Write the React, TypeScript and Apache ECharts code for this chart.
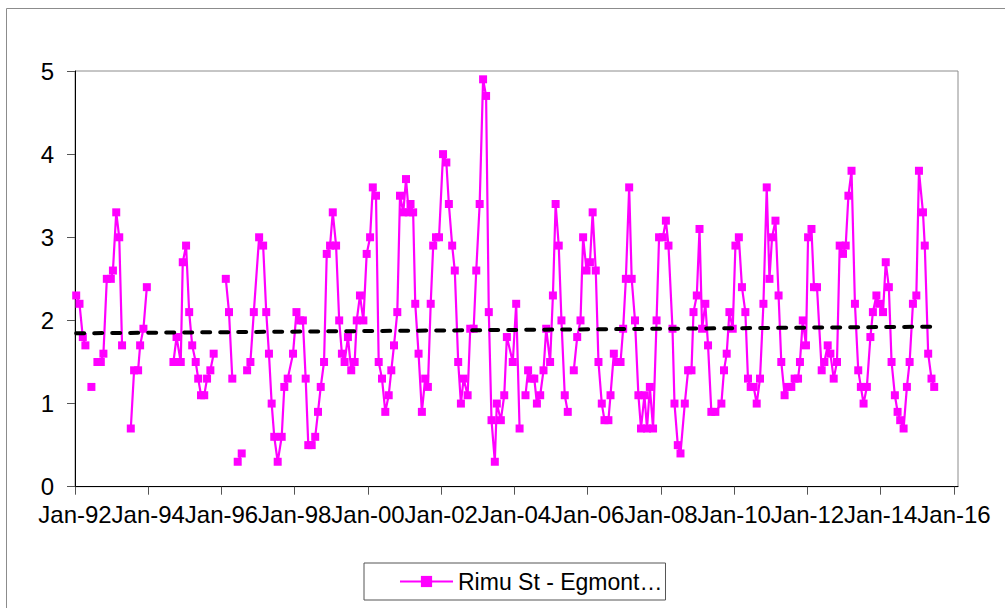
import React, { useEffect, useRef } from "react";
import * as echarts from "echarts";

const seriesName = "Rimu St - Egmont…";

// sample dates (one line per year); a null value marks a gap in the record
const sampleDates: string[] = [
  "1992-01-13", "1992-02-15", "1992-03-19", "1992-04-14", "1992-05-15", "1992-06-13", "1992-07-15", "1992-08-12", "1992-09-15", "1992-10-11", "1992-11-14", "1992-12-24",
  "1993-01-14", "1993-02-16", "1993-03-18", "1993-04-15", "1993-05-15", "1993-07-11", "1993-08-13", "1993-09-22", "1993-10-12", "1993-11-14", "1993-12-18",
  "1994-01-15", "1994-09-09", "1994-10-10", "1994-11-21", "1994-12-11",
  "1995-01-13", "1995-02-13", "1995-03-15", "1995-04-19", "1995-05-14", "1995-06-11", "1995-07-13", "1995-08-10", "1995-09-12", "1995-10-15", "1995-11-15",
  "1996-02-13", "1996-03-16", "1996-04-18", "1996-05-15", "1996-06-11", "1996-07-21", "1996-08-15", "1996-09-13", "1996-10-16", "1996-11-19",
  "1997-01-11", "1997-02-20", "1997-03-23", "1997-04-19", "1997-05-16", "1997-06-11", "1997-07-15", "1997-08-24", "1997-09-19", "1997-10-23", "1997-12-15",
  "1998-01-18", "1998-02-24", "1998-03-23", "1998-04-20", "1998-05-16", "1998-06-19", "1998-07-24", "1998-08-21", "1998-09-17", "1998-10-20", "1998-11-16", "1998-12-19",
  "1999-01-15", "1999-02-17", "1999-03-20", "1999-04-16", "1999-05-13", "1999-06-15", "1999-07-18", "1999-08-21", "1999-09-11", "1999-10-13", "1999-11-16", "1999-12-19",
  "2000-01-22", "2000-02-18", "2000-03-21", "2000-04-17", "2000-05-20", "2000-06-22", "2000-07-26", "2000-08-21", "2000-09-17", "2000-10-20", "2000-11-16", "2000-12-19",
  "2001-01-15", "2001-02-11", "2001-03-01", "2001-03-27", "2001-04-17", "2001-05-20", "2001-06-22", "2001-07-25", "2001-08-21", "2001-09-18", "2001-10-13", "2001-11-10", "2001-12-10",
  "2002-01-19", "2002-02-21", "2002-03-18", "2002-04-20", "2002-05-16", "2002-06-19", "2002-07-16", "2002-08-12", "2002-09-21", "2002-10-17", "2002-11-20", "2002-12-16",
  "2003-01-19", "2003-02-22", "2003-03-24", "2003-04-20", "2003-05-17", "2003-06-19", "2003-07-09", "2003-08-18", "2003-09-21", "2003-10-17", "2003-12-15",
  "2004-01-18", "2004-02-21", "2004-03-15", "2004-04-20", "2004-05-16", "2004-06-19", "2004-07-17", "2004-08-12", "2004-09-14", "2004-10-17", "2004-11-13", "2004-12-22",
  "2005-01-19", "2005-02-15", "2005-03-18", "2005-04-14", "2005-05-17", "2005-06-16", "2005-07-15", "2005-08-15", "2005-09-18", "2005-10-21", "2005-11-16", "2005-12-20",
  "2006-01-23", "2006-02-19", "2006-03-22", "2006-04-18", "2006-05-21", "2006-06-17", "2006-07-26", "2006-08-16", "2006-09-18", "2006-10-21", "2006-11-24", "2006-12-20",
  "2007-01-16", "2007-02-18", "2007-03-15", "2007-04-17", "2007-05-21", "2007-06-16", "2007-07-20", "2007-08-15", "2007-09-12", "2007-10-14", "2007-11-18", "2007-12-13",
  "2008-01-20", "2008-02-19", "2008-03-16", "2008-04-25", "2008-05-15", "2008-06-17", "2008-07-14", "2008-08-26", "2008-09-28", "2008-11-01", "2008-11-21", "2008-12-24",
  "2009-01-20", "2009-02-15", "2009-03-19", "2009-04-15", "2009-05-18", "2009-06-27", "2009-08-26", "2009-09-21", "2009-10-18", "2009-11-14", "2009-12-17",
  "2010-01-13", "2010-02-16", "2010-03-19", "2010-04-22", "2010-05-18", "2010-06-14", "2010-07-14", "2010-08-13", "2010-09-15", "2010-10-19", "2010-11-21", "2010-12-18",
  "2011-01-13", "2011-02-16", "2011-03-19", "2011-04-15", "2011-05-18", "2011-06-21", "2011-07-24", "2011-08-26", "2011-09-29", "2011-10-18", "2011-11-15", "2011-12-17",
  "2012-01-07", "2012-02-10", "2012-03-06", "2012-04-05", "2012-05-22", "2012-06-18", "2012-07-21", "2012-08-17", "2012-09-19", "2012-10-22", "2012-11-18", "2012-12-21",
  "2013-01-17", "2013-02-13", "2013-03-16", "2013-04-19", "2013-05-22", "2013-06-17", "2013-07-14", "2013-08-16", "2013-09-20", "2013-10-15", "2013-11-19", "2013-12-16",
  "2014-01-24", "2014-02-20", "2014-03-23", "2014-04-19", "2014-05-22", "2014-06-18", "2014-07-14", "2014-08-17", "2014-09-19", "2014-10-16", "2014-11-18", "2014-12-22",
  "2015-01-17", "2015-02-26", "2015-03-16", "2015-04-19", "2015-05-22", "2015-06-18",
];

const sampleValues: (number | null)[] = [
  2.3, 2.2, 1.8, 1.7, null, 1.2, null, 1.5, 1.5, 1.6, 2.5, 2.5,
  2.6, 3.3, 3.0, 1.7, null, 0.7, 1.4, 1.4, 1.7, 1.9, 2.4,
  null, 1.5, 1.8, 1.5, 2.7,
  2.9, 2.1, 1.7, 1.5, 1.3, 1.1, 1.1, 1.3, 1.4, 1.6, null,
  2.5, 2.1, 1.3, null, 0.3, 0.4, null, 1.4, 1.5, 2.1,
  3.0, 2.9, 2.1, 1.6, 1.0, 0.6, 0.3, 0.6, 1.2, 1.3, 1.6,
  2.1, 2.0, 2.0, 1.3, 0.5, 0.5, 0.6, 0.9, 1.2, 1.5, 2.8, 2.9,
  3.3, 2.9, 2.0, 1.6, 1.5, 1.8, 1.4, 1.5, 2.0, 2.3, 2.0, 2.8,
  3.0, 3.6, 3.5, 1.5, 1.3, 0.9, 1.1, 1.4, 1.7, 2.1, 3.5, 3.3,
  3.7, 3.3, 3.4, 3.3, 2.2, 1.6, 0.9, 1.3, 1.2, 2.2, 2.9, 3.0, 3.0,
  4.0, 3.9, 3.4, 2.9, 2.6, 1.5, 1.0, 1.3, 1.1, 1.9, 1.9, 2.6,
  3.4, 4.9, 4.7, 2.1, 0.8, 0.3, 1.0, 0.8, 1.1, 1.8, 1.5,
  2.2, 0.7, null, 1.1, 1.4, 1.3, 1.3, 1.0, 1.1, 1.4, 1.9, 1.5,
  2.3, 3.4, 2.9, 2.0, 1.1, 0.9, null, 1.4, 1.8, 2.0, 3.0, 2.6,
  2.7, 3.3, 2.6, 1.5, 1.0, 0.8, 0.8, 1.1, 1.6, 1.5, 1.5, 1.9,
  2.5, 3.6, 2.5, 2.0, 1.1, 0.7, 1.1, 0.7, 1.2, 0.7, 2.0, 3.0,
  3.0, 3.2, 2.9, 1.9, 1.0, 0.5, 0.4, 1.0, 1.4, 1.4, 2.1, 2.3,
  3.1, 1.9, 2.2, 1.7, 0.9, 0.9, 1.0, 1.4, 1.6, 2.1, 1.9,
  2.9, 3.0, 2.4, 2.1, 1.3, 1.2, 1.2, 1.0, 1.3, 2.2, 3.6, 2.5,
  3.0, 3.2, 2.3, 1.5, 1.1, 1.2, 1.2, 1.3, 1.3, 1.5, 2.0, 1.7,
  3.0, 3.1, 2.4, 2.4, 1.4, 1.5, 1.7, 1.6, 1.3, 1.5, 2.9, 2.8,
  2.9, 3.5, 3.8, 2.2, 1.4, 1.2, 1.0, 1.2, 1.8, 2.1, 2.3, 2.2,
  2.1, 2.7, 2.4, 1.5, 1.1, 0.9, 0.8, 0.7, 1.2, 1.5, 2.2, 2.3,
  3.8, 3.3, 2.9, 1.6, 1.3, 1.2,
];

// linear trend line: value at first and at last sample
const trendValues: number[] = [1.845, 1.925];

const xTickYears: number[] = [1992, 1994, 1996, 1998, 2000, 2002, 2004, 2006, 2008, 2010, 2012, 2014, 2016];
const xMinYear = 1992;
const xMaxYear = 2016.11;
const yMin = 0;
const yMax = 5;
const yStep = 1;

const FONT = '"Liberation Sans", Arial, Helvetica, sans-serif';

function toYear(d: string): number {
  const [y, m, dd] = d.split("-").map(Number);
  const start = Date.UTC(y, 0, 1);
  const end = Date.UTC(y + 1, 0, 1);
  return y + (Date.UTC(y, m - 1, dd) - start) / (end - start);
}

export default function App() {
  const ref = useRef<HTMLDivElement>(null);

  useEffect(() => {
    if (!ref.current) return;
    const chart = echarts.init(ref.current, undefined, { renderer: "svg" });

    const lineData = sampleDates.map((d, i) => [toYear(d), sampleValues[i] === null ? "-" : sampleValues[i]]);
    const trendData = [
      [toYear(sampleDates[0]), trendValues[0]],
      [toYear(sampleDates[sampleDates.length - 1]), trendValues[1]],
    ];

    chart.setOption({
      animation: false,
      backgroundColor: "#ffffff",
      textStyle: { fontFamily: FONT },
      graphic: [
        {
          type: "rect",
          silent: true,
          z: -10,
          shape: { x: 6.5, y: 8.5, width: 1200, height: 800 },
          style: { fill: "none", stroke: "#8c8c8c", lineWidth: 1 },
        },
      ],
      grid: {
        left: 75,
        top: 71,
        right: 47,
        bottom: 121.3,
        show: true,
        borderColor: "#8c8c8c",
        borderWidth: 1,
        backgroundColor: "transparent",
        containLabel: false,
        outerBoundsMode: "none",
      },
      legend: {
        data: [seriesName],
        left: 364,
        top: 563,
        orient: "horizontal",
        padding: [7, 3, 7, 35],
        borderColor: "#555555",
        borderWidth: 1,
        itemWidth: 53,
        itemHeight: 14,
        textStyle: { fontFamily: FONT, fontSize: 23, color: "#000000" },
        selectedMode: false,
      },
      xAxis: {
        type: "value",
        min: xMinYear,
        max: xMaxYear,
        splitLine: { show: false },
        axisLine: { show: true, onZero: false, lineStyle: { color: "#000000", width: 1 } },
        axisTick: {
          show: true,
          length: 8,
          inside: false,
          customValues: xTickYears,
          lineStyle: { color: "#555555", width: 1 },
        },
        axisLabel: {
          show: true,
          customValues: xTickYears,
          margin: 16,
          fontSize: 24,
          fontFamily: FONT,
          color: "#000000",
          formatter: (v: number) => "Jan-" + String(Math.round(v) % 100).padStart(2, "0"),
        },
      },
      yAxis: {
        type: "value",
        min: yMin,
        max: yMax,
        interval: yStep,
        splitLine: { show: false },
        axisLine: { show: true, lineStyle: { color: "#000000", width: 1 } },
        axisTick: { show: true, length: 8, inside: false, lineStyle: { color: "#555555", width: 1 } },
        axisLabel: {
          margin: 21,
          fontSize: 24,
          fontFamily: FONT,
          color: "#000000",
        },
      },
      series: [
        {
          name: seriesName,
          type: "line",
          data: lineData,
          connectNulls: false,
          symbol: "rect",
          symbolSize: 8,
          showAllSymbol: true,
          lineStyle: { color: "#FF00FF", width: 2.2 },
          itemStyle: { color: "#FF00FF" },
          z: 2,
        },
        {
          name: "trend",
          type: "line",
          data: trendData,
          symbol: "none",
          lineStyle: { color: "#000000", width: 4, type: [8, 10], cap: "round" },
          z: 3,
          silent: true,
        },
      ],
    });

    return () => chart.dispose();
  }, []);

  return (
    <div
      ref={ref}
      style={{ position: "absolute", left: 0, top: 0, width: 1005, height: 608 }}
    />
  );
}
